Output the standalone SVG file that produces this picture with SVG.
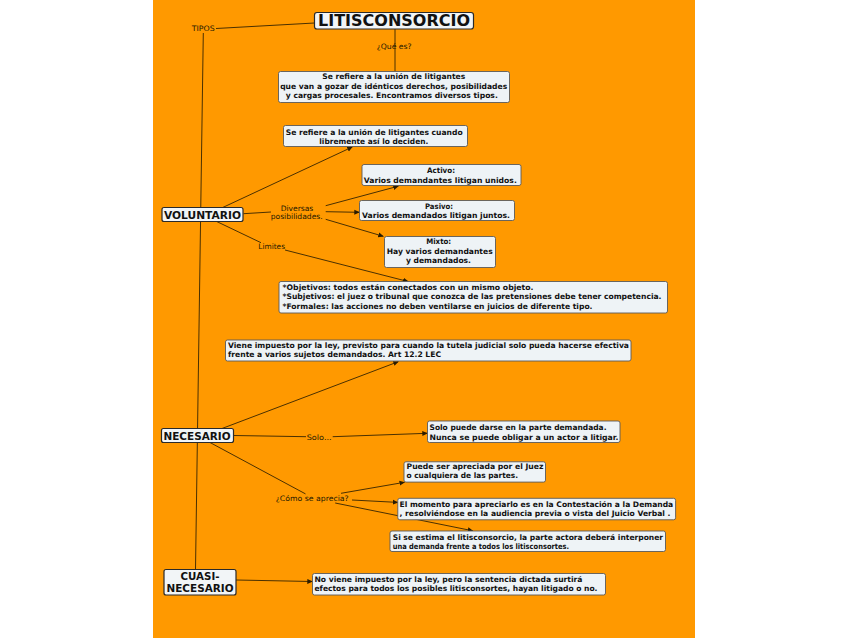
<svg xmlns="http://www.w3.org/2000/svg" width="848" height="638" viewBox="0 0 848 638">
<style>
.bg{fill:#FF9900}
.box{fill:#EEF3F6;stroke:#5a5a5a;stroke-width:0.9}
.main{fill:#F2F5F7;stroke:#2a2a2a;stroke-width:1.2}
.t{font-family:"DejaVu Sans","Liberation Sans",sans-serif;font-weight:bold;font-size:7.6px;fill:#111}
.m{text-anchor:middle}
.big{font-family:"DejaVu Sans","Liberation Sans",sans-serif;font-weight:bold;font-size:10.5px;fill:#111;text-anchor:middle}
.title{font-family:"DejaVu Sans","Liberation Sans",sans-serif;font-weight:bold;font-size:15.5px;fill:#111;text-anchor:middle}
.lbl{font-family:"DejaVu Sans","Liberation Sans",sans-serif;font-size:7.5px;fill:#231800}
.c{stroke:#4a3000;stroke-width:1;fill:none}
.a{marker-end:url(#ah)}
</style>
<defs>
<marker id="ah" markerWidth="6" markerHeight="6" refX="5" refY="3" orient="auto" markerUnits="userSpaceOnUse">
<path d="M0,0.5 L5.5,3 L0,5.5 Z" fill="#2a1c00"/>
</marker>
</defs>
<rect x="0" y="0" width="848" height="638" fill="#ffffff"/>
<rect class="bg" x="153" y="0" width="542" height="638"/>

<g id="connectors">
<line class="c" x1="216" y1="28.5" x2="314.5" y2="23"/>
<line class="c" x1="203.3" y1="33" x2="195.5" y2="569.5"/>
<line class="c" x1="395" y1="28.5" x2="395" y2="71.5"/>
<line class="c a" x1="222.7" y1="207.5" x2="352.3" y2="147"/>
<line class="c" x1="243.5" y1="213.7" x2="271" y2="212"/>
<line class="c a" x1="325.7" y1="205.7" x2="398.3" y2="186.2"/>
<line class="c a" x1="325.7" y1="211.7" x2="359.3" y2="212.3"/>
<line class="c a" x1="325.7" y1="219.3" x2="383.3" y2="236.3"/>
<line class="c" x1="216.7" y1="221.5" x2="261" y2="242.7"/>
<line class="c a" x1="285" y1="250" x2="408" y2="281.5"/>
<line class="c a" x1="220.7" y1="429" x2="398.3" y2="361.7"/>
<line class="c" x1="233.5" y1="435.5" x2="306" y2="436.7"/>
<line class="c a" x1="332.7" y1="436.7" x2="427.3" y2="433.3"/>
<line class="c" x1="210" y1="442.5" x2="305.5" y2="493.9"/>
<line class="c a" x1="341" y1="493.3" x2="404.5" y2="482.3"/>
<line class="c a" x1="352" y1="500" x2="397.8" y2="502.4"/>
<line class="c a" x1="335.2" y1="503" x2="472.8" y2="530.8"/>
<line class="c a" x1="236" y1="580" x2="312.3" y2="581.5"/>
</g>

<g id="labels">
<text class="lbl" x="191.7" y="31" textLength="23" lengthAdjust="spacingAndGlyphs">TIPOS</text>
<text class="lbl" x="376.7" y="48.5" textLength="35" lengthAdjust="spacingAndGlyphs">¿Qué es?</text>
<text class="lbl" x="280.7" y="210.5" textLength="32.6" lengthAdjust="spacingAndGlyphs">Diversas</text>
<text class="lbl" x="270.7" y="219" textLength="52" lengthAdjust="spacingAndGlyphs">posibilidades.</text>
<text class="lbl" x="258.3" y="249" textLength="26.7" lengthAdjust="spacingAndGlyphs">Limites</text>
<text class="lbl" x="306.7" y="439.5" textLength="25" lengthAdjust="spacingAndGlyphs">Solo...</text>
<text class="lbl" x="275.7" y="500.5" textLength="73" lengthAdjust="spacingAndGlyphs">¿Cómo se aprecia?</text>
</g>

<g id="n-litisconsorcio">
<rect class="main" x="314.5" y="12.5" width="159" height="16.5" rx="2.5"/>
<text class="title" x="394" y="26.2" textLength="152" lengthAdjust="spacingAndGlyphs">LITISCONSORCIO</text>
</g>

<g id="n-definicion">
<rect class="box" x="278.5" y="71.5" width="231" height="31" rx="2"/>
<text class="t m" x="393.7" y="79.2" textLength="143" lengthAdjust="spacingAndGlyphs">Se refiere a la unión de litigantes</text>
<text class="t m" x="393.7" y="88.6" textLength="227" lengthAdjust="spacingAndGlyphs">que van a gozar de idénticos derechos, posibilidades</text>
<text class="t m" x="391.8" y="98" textLength="212" lengthAdjust="spacingAndGlyphs">y cargas procesales. Encontramos diversos tipos.</text>
</g>

<g id="n-voluntario-def">
<rect class="box" x="283.5" y="125.5" width="184" height="21" rx="2"/>
<text class="t m" x="374.2" y="134.5" textLength="177" lengthAdjust="spacingAndGlyphs">Se refiere a la unión de litigantes cuando</text>
<text class="t m" x="373.8" y="143.5" textLength="109" lengthAdjust="spacingAndGlyphs">libremente así lo deciden.</text>
</g>

<g id="n-activo">
<rect class="box" x="362" y="164.5" width="159" height="21" rx="2"/>
<text class="t m" x="441" y="173" textLength="28" lengthAdjust="spacingAndGlyphs">Activo:</text>
<text class="t m" x="440.3" y="182.5" textLength="153" lengthAdjust="spacingAndGlyphs">Varios demandantes litigan unidos.</text>
</g>

<g id="n-pasivo">
<rect class="box" x="359.5" y="200.5" width="155" height="20" rx="2"/>
<text class="t m" x="439" y="209" textLength="28" lengthAdjust="spacingAndGlyphs">Pasivo:</text>
<text class="t m" x="436" y="218" textLength="148" lengthAdjust="spacingAndGlyphs">Varios demandados litigan juntos.</text>
</g>

<g id="n-mixto">
<rect class="box" x="384.5" y="236.5" width="111" height="31" rx="2"/>
<text class="t m" x="438.7" y="244.3" textLength="25" lengthAdjust="spacingAndGlyphs">Mixto:</text>
<text class="t m" x="439.7" y="253.8" textLength="106" lengthAdjust="spacingAndGlyphs">Hay varios demandantes</text>
<text class="t m" x="438.5" y="263.2" textLength="65" lengthAdjust="spacingAndGlyphs">y demandados.</text>
</g>

<g id="n-voluntario">
<rect class="main" x="162" y="207.5" width="81" height="14" rx="2"/>
<text class="big" x="202.5" y="218.5" textLength="77" lengthAdjust="spacingAndGlyphs">VOLUNTARIO</text>
</g>

<g id="n-limites">
<rect class="box" x="279" y="281.5" width="388.5" height="31.5" rx="2"/>
<text class="t" x="282.5" y="289.5" textLength="251" lengthAdjust="spacingAndGlyphs">*Objetivos: todos están conectados  con un mismo objeto.</text>
<text class="t" x="282.5" y="299" textLength="379" lengthAdjust="spacingAndGlyphs">*Subjetivos: el juez o tribunal que conozca de las pretensiones debe tener competencia.</text>
<text class="t" x="282.5" y="308.5" textLength="310" lengthAdjust="spacingAndGlyphs">*Formales: las acciones no deben ventilarse en juicios de diferente tipo.</text>
</g>

<g id="n-necesario-def">
<rect class="box" x="225.5" y="340" width="405.5" height="21" rx="2"/>
<text class="t" x="228" y="348" textLength="401" lengthAdjust="spacingAndGlyphs">Viene impuesto por la ley, previsto para cuando la tutela judicial solo pueda hacerse efectiva</text>
<text class="t" x="228" y="357" textLength="213" lengthAdjust="spacingAndGlyphs">frente a varios sujetos demandados. Art 12.2 LEC</text>
</g>

<g id="n-necesario">
<rect class="main" x="161.5" y="428.5" width="72" height="14" rx="2"/>
<text class="big" x="197" y="439.5" textLength="67" lengthAdjust="spacingAndGlyphs">NECESARIO</text>
</g>

<g id="n-solo">
<rect class="box" x="427.5" y="421" width="192.5" height="21.5" rx="2"/>
<text class="t" x="429.5" y="430" textLength="177" lengthAdjust="spacingAndGlyphs">Solo puede darse en la parte demandada.</text>
<text class="t" x="429.5" y="439.5" textLength="189" lengthAdjust="spacingAndGlyphs">Nunca se puede obligar a un actor a litigar.</text>
</g>

<g id="n-puede">
<rect class="box" x="404" y="461.8" width="141.5" height="20.3" rx="2"/>
<text class="t" x="406.5" y="469" textLength="137" lengthAdjust="spacingAndGlyphs">Puede ser apreciada por el Juez</text>
<text class="t" x="406.5" y="478.3" textLength="111.5" lengthAdjust="spacingAndGlyphs">o cualquiera de las partes.</text>
</g>

<g id="n-momento">
<rect class="box" x="397.8" y="498.3" width="277.8" height="21.5" rx="2"/>
<text class="t" x="399.5" y="506.6" textLength="273.7" lengthAdjust="spacingAndGlyphs">El momento para apreciarlo es en la Contestación a la Demanda</text>
<text class="t" x="399.5" y="515.9" textLength="271" lengthAdjust="spacingAndGlyphs">, resolviéndose en la audiencia previa o vista del Juicio Verbal .</text>
</g>

<g id="n-estima">
<rect class="box" x="390" y="531" width="275.5" height="20.5" rx="2"/>
<text class="t" x="392.7" y="539.6" textLength="270.4" lengthAdjust="spacingAndGlyphs">Si se estima el litisconsorcio, la parte actora deberá interponer</text>
<text class="t" x="392.7" y="548.9" textLength="176.4" lengthAdjust="spacingAndGlyphs">una demanda frente a todos los litisconsortes.</text>
</g>

<g id="n-cuasi">
<rect class="main" x="164" y="569.5" width="72" height="25.5" rx="2"/>
<text class="big" x="200" y="580.3" textLength="39" lengthAdjust="spacingAndGlyphs">CUASI-</text>
<text class="big" x="200" y="591.6" textLength="67" lengthAdjust="spacingAndGlyphs">NECESARIO</text>
</g>

<g id="n-cuasi-def">
<rect class="box" x="312.5" y="573.5" width="293" height="21.5" rx="2"/>
<text class="t" x="314.5" y="581.7" textLength="268" lengthAdjust="spacingAndGlyphs">No viene impuesto por la ley, pero la sentencia dictada surtirá</text>
<text class="t" x="314.5" y="590.9" textLength="283" lengthAdjust="spacingAndGlyphs">efectos para todos los posibles litisconsortes, hayan litigado o no.</text>
</g>
</svg>
